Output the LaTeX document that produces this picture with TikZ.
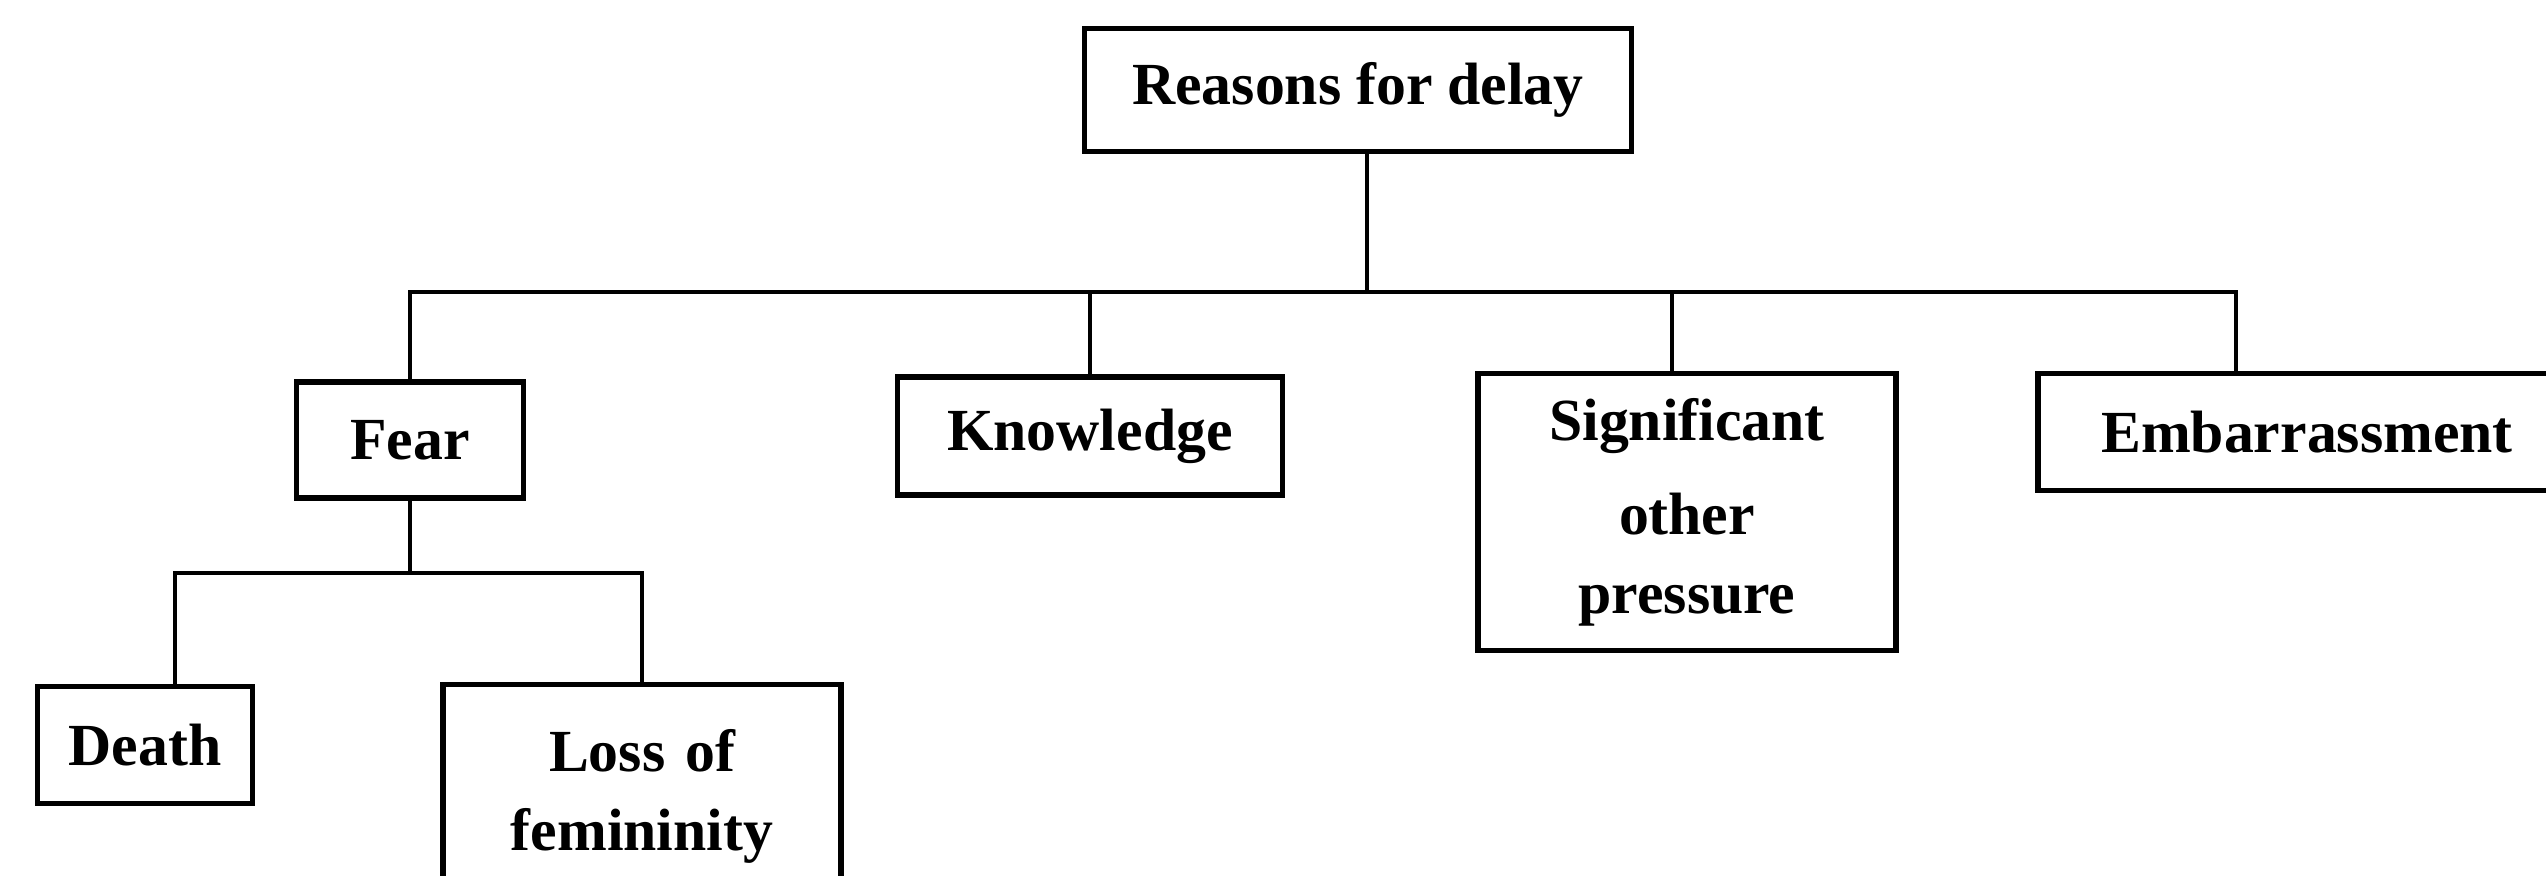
\documentclass[tikz,border=0pt]{standalone}
\usepackage{fontspec}
\setmainfont{Liberation Serif}
\usetikzlibrary{calc}
\tikzset{
  box/.style={draw=black, line width=1.5pt, inner sep=0pt, align=center,
              font=\fontsize{17}{22.5}\selectfont\bfseries},
  conn/.style={draw=black, line width=1.3pt}
}
\begin{document}
\begin{tikzpicture}
\useasboundingbox (0,0) rectangle (25.46,-8.76);
\clip (0,0) rectangle (25.46,-8.76);
\fill[white] (0,0) rectangle (25.46,-8.76);

\node[box, minimum width=5.47cm, minimum height=1.23cm] (root) at (13.58,-0.90) {Reasons for delay};
\node[box, minimum width=2.27cm, minimum height=1.16cm] (fear) at (4.10,-4.40) {Fear};
\node[box, minimum width=3.85cm, minimum height=1.18cm] (know) at (10.90,-4.36) {Knowledge};
\node[box, minimum width=4.18cm, minimum height=2.77cm] (sig) at (16.87,-5.12) {Significant\\[0.15cm]other\\pressure};
\node[box, minimum width=5.38cm, minimum height=1.17cm] (emb) at (23.07,-4.32) {Embarrassment};
\node[box, minimum width=2.15cm, minimum height=1.17cm] (death) at (1.45,-7.45) {Death};
\node[box, anchor=north, inner ysep=0.45cm, text width=3.98cm] (loss) at (6.42,-6.82) {Loss of\\femininity\\\mbox{}};

\coordinate (bus) at (13.67,-2.92);
\coordinate (fbus) at (4.11,-5.73);
\coordinate (rb) at ($(root.south)+(0.09,0)$);
\coordinate (eb) at ($(emb.north)+(-0.71,0)$);
\coordinate (sb) at ($(sig.north)+(-0.15,0)$);
\coordinate (db) at ($(death.north)+(0.30,0)$);

\draw[conn] (rb) -- (rb |- bus);
\draw[conn] (fear.north) -- (fear.north |- bus) -- (eb |- bus) -- (eb);
\draw[conn] (know.north) -- (know.north |- bus);
\draw[conn] (sb) -- (sb |- bus);
\draw[conn] (fear.south) -- (fear.south |- fbus);
\draw[conn] (db) -- (db |- fbus) -- (loss.north |- fbus) -- (loss.north);
\end{tikzpicture}
\end{document}
